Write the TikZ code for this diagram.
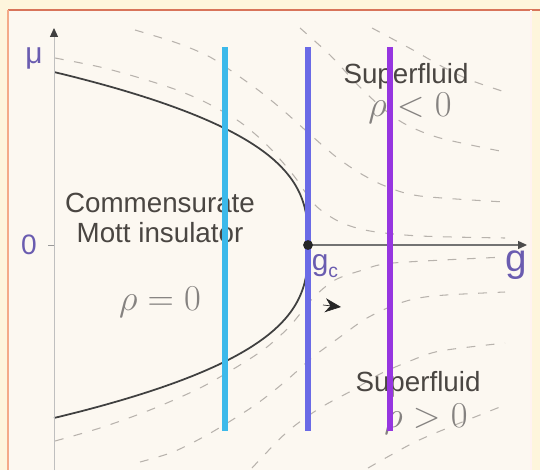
\documentclass[tikz,border=0pt]{standalone}
\usepackage{fontspec}
\setsansfont{Liberation Sans}
\usetikzlibrary{arrows.meta}
\definecolor{pagebg}{HTML}{FEF5DC}
\definecolor{panelbg}{HTML}{FCF8F1}
\definecolor{frameline}{HTML}{D8745A}
\definecolor{frameside}{HTML}{F4AA88}
\definecolor{axislabel}{HTML}{6A5CB0}
\definecolor{textgray}{HTML}{4A4642}
\definecolor{mathgray}{HTML}{858280}
\definecolor{flowgray}{HTML}{B8B3AD}
\definecolor{cutcyan}{HTML}{3CB9EA}
\definecolor{cutblue}{HTML}{6A6AE6}
\definecolor{cutpurple}{HTML}{9636E0}

\begin{document}
\begin{tikzpicture}[
	x=0.02cm, y=-0.02cm,
	phase/.style={font=\sffamily\fontsize{15.8}{17.5}\selectfont, text=textgray, align=center, inner sep=0pt},
	density/.style={font=\huge, text=mathgray, inner sep=0pt},
	axlabel/.style={font=\sffamily, text=axislabel, inner sep=0pt},
	flow/.style={draw=flowgray, line width=0.6pt, dash pattern=on 5pt off 6pt},
	boundary/.style={draw=black!75, line width=1pt},
	cut/.style={line width=3.2pt},
	vaxis/.style={-{Triangle[length=5pt, width=4.5pt, color=black!75]}, draw=black!25, line width=0.5pt},
	haxis/.style={-{Triangle[length=5pt, width=4.5pt, color=black!70]}, draw=black!55, line width=0.6pt},
	tick/.style={draw=black!40, line width=0.5pt}
	]
	\useasboundingbox (0,0) rectangle (540,470);
	\fill[pagebg] (0,0) rectangle (540,470);
	\fill[panelbg] (8,10) rectangle (531,470);
	\draw[frameline, line width=1.4pt] (8,10) -- (540,10);
	\draw[frameside, line width=1.2pt] (8,10) -- (8,470);
	\draw[pink!20, line width=0.6pt] (531,10) -- (531,470);

	\coordinate (origin) at (54,245);
	\coordinate (tickl) at (48,245);
	\coordinate (mubot) at (54,470);
	\coordinate (mutop) at (54,28);
	\coordinate (gc) at (308,245);
	\coordinate (gend) at (527,245);

	\draw[flow] plot[smooth] coordinates {(55,58) (100,67) (140,78) (177,90) (207,103) (240,122) (268,146) (294,176) (315,205) (340,222) (370,231) (420,236) (505,238)};
	\draw[flow] plot[smooth] coordinates {(135,30) (177,43) (210,57) (240,77) (262,93) (285,112) (313,137) (335,156) (358,172) (385,186) (420,196) (505,202)};
	\draw[flow] plot[smooth] coordinates {(300,28) (330,55) (355,82) (380,106) (405,124) (440,138) (505,152)};
	\draw[flow] plot[smooth] coordinates {(372,28) (413,50) (443,67) (470,80) (505,92)};
	\draw[flow] plot[smooth] coordinates {(55,441) (100,428) (150,410) (200,388) (240,365) (267,347) (290,326) (313,298) (335,280) (363,270) (393,263) (505,257)};
	\draw[flow] plot[smooth] coordinates {(140,462) (173,452) (207,435) (240,415) (262,400) (287,380) (313,357) (340,337) (367,318) (400,303) (433,296) (505,292)};
	\draw[flow] plot[smooth] coordinates {(252,468) (287,432) (320,408) (353,390) (380,374) (410,361) (440,351) (505,343)};
	\draw[flow] plot[smooth] coordinates {(368,468) (413,443) (450,427) (505,405)};

	\draw[boundary] plot[domain=-1:1, samples=60, smooth, variable=\t] ({308-254*pow(abs(\t),2.83)}, {245-173*\t});

	\draw[vaxis] (mubot) -- (mutop);
	\draw[tick] (tickl) -- (origin);
	\draw[haxis] (gc) -- (gend);

	\node[phase] (mott) at (160,218) {Commensurate\\Mott insulator};
	\node[density] (rhozero) at (160,302) {$\rho=0$};
	\node[phase] (sfup) at (406,76) {Superfluid};
	\node[density] (rhoneg) at (410,108) {$\rho<0$};
	\node[phase] (sfdown) at (418,384) {Superfluid};
	\node[density] (rhopos) at (426,419) {$\rho>0$};

	\node[axlabel, font=\sffamily\fontsize{17}{18}\selectfont] (mulab) at (34,58) {μ};
	\node[axlabel, font=\sffamily\fontsize{16}{17}\selectfont] (zerolab) at (29,245) {0};
	\node[axlabel, font=\sffamily\fontsize{22}{24}\selectfont] (glab) at (516,265) {g};
	\node[axlabel, font=\sffamily\fontsize{17}{18}\selectfont] (gclab) at (325,266) {g\raisebox{-0.25em}{\fontsize{11}{12}\selectfont c}};

	\draw[cut, cutcyan] (225,47) -- (225,431);
	\draw[cut, cutblue] (308,47) -- (308,431);
	\draw[cut, cutpurple] (390,47) -- (390,431);

	\fill[black!85] (gc) circle[radius=2.8pt];
	\coordinate (flowa) at (323,305);
	\coordinate (flowb) at (341,307);
	\draw[-{Stealth[length=9pt, width=8pt]}, black!85, line width=0.4pt] (flowa) -- (flowb);
\end{tikzpicture}
\end{document}
